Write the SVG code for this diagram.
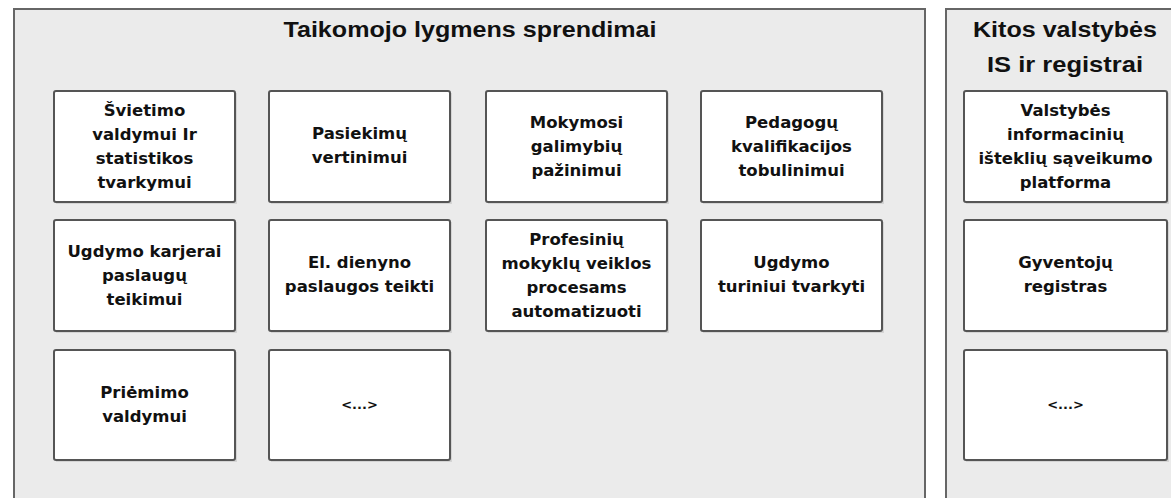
<svg xmlns="http://www.w3.org/2000/svg" width="1171" height="498" viewBox="0 0 1171 498">
<style>
.cont{fill:#ebebeb;stroke:#666;stroke-width:2}
.box{fill:#fff;stroke:#555;stroke-width:2}
.sh{fill:#d4d4d4}
.title{font-family:"Liberation Sans",Arial,sans-serif;font-weight:bold;font-size:22px;fill:#111;text-anchor:middle}
.t{font-family:"DejaVu Sans",Verdana,sans-serif;font-weight:bold;font-size:16.5px;fill:#111;text-anchor:middle}
.e{font-size:13px}
</style>
<rect width="1171" height="498" fill="#fff"/>
<g id="app-layer">
<rect class="cont" x="14" y="9" width="911" height="500"/>
<text class="title" x="470" y="37" textLength="373" lengthAdjust="spacingAndGlyphs">Taikomojo lygmens sprendimai</text>
</g>
<g id="state-layer">
<rect class="cont" x="946" y="9" width="240" height="500"/>
<text class="title" x="1065" y="37" textLength="184" lengthAdjust="spacingAndGlyphs">Kitos valstybės</text>
<text class="title" x="1065" y="72" textLength="156" lengthAdjust="spacingAndGlyphs">IS ir registrai</text>
</g>
<g id="n1"><rect class="sh" x="56" y="93" width="181" height="111"/><rect class="box" x="54" y="91" width="181" height="111" rx="2"/>
<text class="t" x="144.5" y="116">Švietimo</text><text class="t" x="144.5" y="140">valdymui Ir</text><text class="t" x="144.5" y="164">statistikos</text><text class="t" x="144.5" y="188">tvarkymui</text></g>
<g id="n2"><rect class="sh" x="271" y="93" width="181" height="111"/><rect class="box" x="269" y="91" width="181" height="111" rx="2"/>
<text class="t" x="359.5" y="139">Pasiekimų</text><text class="t" x="359.5" y="163">vertinimui</text></g>
<g id="n3"><rect class="sh" x="488" y="93" width="181" height="111"/><rect class="box" x="486" y="91" width="181" height="111" rx="2"/>
<text class="t" x="576.5" y="128">Mokymosi</text><text class="t" x="576.5" y="152">galimybių</text><text class="t" x="576.5" y="176">pažinimui</text></g>
<g id="n4"><rect class="sh" x="703" y="93" width="181" height="111"/><rect class="box" x="701" y="91" width="181" height="111" rx="2"/>
<text class="t" x="791.5" y="128">Pedagogų</text><text class="t" x="791.5" y="152">kvalifikacijos</text><text class="t" x="791.5" y="176">tobulinimui</text></g>
<g id="n5"><rect class="sh" x="56" y="222" width="181" height="111"/><rect class="box" x="54" y="220" width="181" height="111" rx="2"/>
<text class="t" x="144.5" y="257">Ugdymo karjerai</text><text class="t" x="144.5" y="281">paslaugų</text><text class="t" x="144.5" y="305">teikimui</text></g>
<g id="n6"><rect class="sh" x="271" y="222" width="181" height="111"/><rect class="box" x="269" y="220" width="181" height="111" rx="2"/>
<text class="t" x="359.5" y="268">El. dienyno</text><text class="t" x="359.5" y="292">paslaugos teikti</text></g>
<g id="n7"><rect class="sh" x="488" y="222" width="181" height="111"/><rect class="box" x="486" y="220" width="181" height="111" rx="2"/>
<text class="t" x="576.5" y="245">Profesinių</text><text class="t" x="576.5" y="269">mokyklų veiklos</text><text class="t" x="576.5" y="293">procesams</text><text class="t" x="576.5" y="317">automatizuoti</text></g>
<g id="n8"><rect class="sh" x="703" y="222" width="181" height="111"/><rect class="box" x="701" y="220" width="181" height="111" rx="2"/>
<text class="t" x="791.5" y="268">Ugdymo</text><text class="t" x="791.5" y="292">turiniui tvarkyti</text></g>
<g id="n9"><rect class="sh" x="56" y="352" width="181" height="110"/><rect class="box" x="54" y="350" width="181" height="110" rx="2"/>
<text class="t" x="144.5" y="398">Priėmimo</text><text class="t" x="144.5" y="422">valdymui</text></g>
<g id="n10"><rect class="sh" x="271" y="352" width="181" height="110"/><rect class="box" x="269" y="350" width="181" height="110" rx="2"/>
<text class="t e" x="359.5" y="409">&lt;...&gt;</text></g>
<g id="r1"><rect class="sh" x="966" y="93" width="203" height="111"/><rect class="box" x="964" y="91" width="203" height="111" rx="2"/>
<text class="t" x="1065.5" y="116">Valstybės</text><text class="t" x="1065.5" y="140">informacinių</text><text class="t" x="1065.5" y="164">išteklių sąveikumo</text><text class="t" x="1065.5" y="188">platforma</text></g>
<g id="r2"><rect class="sh" x="966" y="222" width="203" height="111"/><rect class="box" x="964" y="220" width="203" height="111" rx="2"/>
<text class="t" x="1065.5" y="268">Gyventojų</text><text class="t" x="1065.5" y="292">registras</text></g>
<g id="r3"><rect class="sh" x="966" y="352" width="203" height="110"/><rect class="box" x="964" y="350" width="203" height="110" rx="2"/>
<text class="t e" x="1065.5" y="409">&lt;...&gt;</text></g>
<g id="connectors"/>
</svg>
